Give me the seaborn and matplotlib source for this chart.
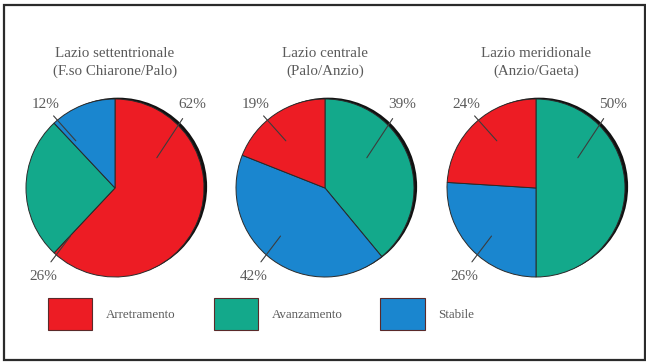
import matplotlib
matplotlib.use("Agg")
import matplotlib.pyplot as plt
from matplotlib.patches import Circle, Rectangle, Patch
import seaborn as sns

# --- data -------------------------------------------------------------
categories = ["Arretramento", "Avanzamento", "Stabile"]
regions = ["Lazio settentrionale\n(F.so Chiarone/Palo)",
           "Lazio centrale\n(Palo/Anzio)",
           "Lazio meridionale\n(Anzio/Gaeta)"]
# clockwise order of wedges (starting at 12 o'clock) for each region
slice_order = [["Arretramento", "Avanzamento", "Stabile"],
               ["Avanzamento", "Stabile", "Arretramento"],
               ["Avanzamento", "Stabile", "Arretramento"]]
nord_values = [62, 26, 12]
centro_values = [39, 42, 19]
sud_values = [50, 26, 24]
all_values = [nord_values, centro_values, sud_values]

# --- style ------------------------------------------------------------
sns.set_theme(style="white")
plt.rcParams["font.family"] = ["Liberation Serif", "DejaVu Serif"]
palette = dict(zip(categories, ["#ED1C24", "#13A98B", "#1A86CF"]))
text_col = "#5a5a5a"

W, H = 646, 362
fig = plt.figure(figsize=(W / 100, H / 100), dpi=100)
fig.patch.set_facecolor("white")

# outer frame
frame = fig.add_axes([0, 0, 1, 1], zorder=-5)
frame.set_xlim(0, W)
frame.set_ylim(H, 0)
frame.axis("off")
frame.add_patch(Rectangle((3.5, 4.5), 641.5, 355, fill=False,
                          edgecolor="#2b2b2b", linewidth=1.6))

R = 89          # pie radius in pixels
LIM = 1.3       # axes half-extent in radius units
centers_x = [115, 325, 536]
center_y = 188

# label anchor positions by wedge rank (first, middle, last clockwise)
label_layout = [((0.47, 0.34), (0.76, 0.78), (0.87, 0.94)),
                ((-0.50, -0.54), (-0.72, -0.83), (-0.80, -1.00)),
                ((-0.44, 0.53), (-0.69, 0.81), (-0.78, 0.94))]

for cx, title, order, vals in zip(centers_x, regions, slice_order, all_values):
    size = 2 * LIM * R
    ax = fig.add_axes([(cx - size / 2) / W, (H - center_y - size / 2) / H,
                       size / W, size / H])

    # drop shadow behind the disc
    ax.add_patch(Circle((0.035, 0.015), 1.0, facecolor="#111111",
                        edgecolor="none", zorder=0))
    wedges, _ = ax.pie(vals, colors=[palette[c] for c in order],
                       startangle=90, counterclock=False, radius=1.0,
                       wedgeprops=dict(edgecolor="#2a2a2a", linewidth=0.7))
    for w in wedges:
        w.set_zorder(1)
    ax.set_xlim(-LIM, LIM)
    ax.set_ylim(-LIM, LIM)
    ax.set_aspect("equal")
    ax.axis("off")

    for v, (p0, p1, pt) in zip(vals, label_layout):
        ax.plot([p0[0], p1[0]], [p0[1], p1[1]], color="#3c3c3c",
                linewidth=0.8, zorder=3, clip_on=False)
        ax.text(pt[0], pt[1], f"{v}%", ha="center", va="center",
                fontsize=11, color=text_col, clip_on=False)

    ax.text(0, 1.41, title, ha="center", va="center", fontsize=10.8,
            color=text_col, linespacing=1.4, clip_on=False)

# legend
handles = [Patch(facecolor=palette[c], edgecolor="#5a2a2a", linewidth=0.8,
                 label=c) for c in categories]
fig.legend(handles=handles, loc="center left",
           bbox_to_anchor=(48 / W, (H - 314) / H), ncol=3, frameon=False,
           fontsize=9.4, labelcolor=text_col, handlelength=3.4,
           handleheight=3.3, handletextpad=1.05, columnspacing=2.9,
           borderpad=0.0, borderaxespad=0.0)

fig.savefig("out.png", dpi=100, facecolor="white")
